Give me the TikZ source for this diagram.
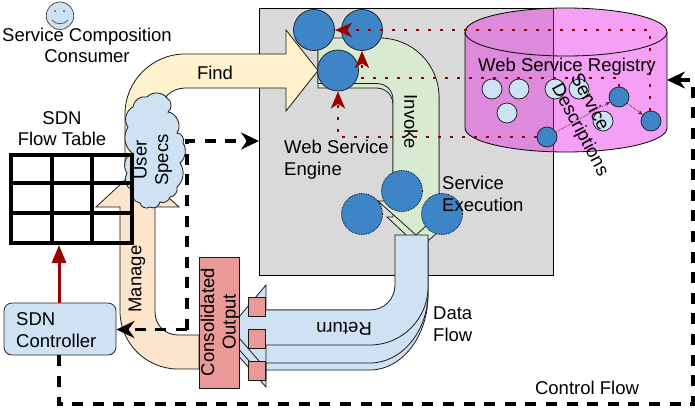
\documentclass[tikz,border=0pt]{standalone}
\usepackage{fontspec}
\setmainfont{Liberation Sans}
\usetikzlibrary{arrows.meta}
\definecolor{panelgray}{HTML}{D9D9D9}
\definecolor{findyellow}{HTML}{FFF2CC}
\definecolor{managepeach}{HTML}{FCE5CD}
\definecolor{invokegreen}{HTML}{D9EAD3}
\definecolor{paleblue}{HTML}{CFE2F3}
\definecolor{salmon}{HTML}{EA9999}
\definecolor{svcblue}{HTML}{3D85C6}
\definecolor{darkred}{HTML}{990000}
\definecolor{regmagenta}{RGB}{228,29,228}
\tikzset{
  txt/.style={font=\fontsize{18.5}{21.5}\selectfont,inner sep=0pt,align=center},
  ltxt/.style={txt,align=left},
  flow/.style={draw=black!90,line width=0.8pt,line join=miter},
  svc/.style={circle,draw=black!85,line width=0.8pt,fill=svcblue,minimum size=41pt,inner sep=0pt},
  exec/.style={circle,draw=black,densely dotted,line width=0.8pt,fill=svcblue,minimum size=41pt,inner sep=0pt},
  desc/.style={circle,draw=black!85,line width=0.8pt,fill=paleblue,minimum size=20pt,inner sep=0pt},
  descdark/.style={circle,draw=black!85,line width=0.8pt,fill=svcblue,minimum size=20pt,inner sep=0pt},
  ctrl/.style={draw=black,line width=3.2pt,dash pattern=on 11pt off 9.6pt,-{Stealth[length=18pt,width=17pt,inset=6pt]}},
  query/.style={draw=darkred,line width=2.8pt,dash pattern=on 2.8pt off 9.2pt,-{Stealth[length=17pt,width=14pt,inset=4.5pt]}},
  link/.style={draw=black!80,line width=0.7pt,densely dotted,-{Stealth[length=5pt,width=4pt]}},
  grid/.style={draw=black,line width=3.6pt},
  outputport/.style={draw=black!90,line width=0.8pt,fill=salmon,minimum width=17pt,minimum height=19pt,inner sep=0pt}
}
\begin{document}
\begin{tikzpicture}[x=1pt,y=-1pt]
\useasboundingbox (0,0) rectangle (695,408);

% Engine panel and registry store
\draw[line width=0.8pt,fill=panelgray] (259,8) rectangle (553,275);
\fill[regmagenta,fill opacity=0.42] (465,32) -- (465,128)
  arc[start angle=180,end angle=360,x radius=101pt,y radius=24pt] -- (667,32)
  arc[start angle=0,end angle=180,x radius=101pt,y radius=24pt] -- cycle;
\draw[line width=0.8pt] (465,32) -- (465,128)
  arc[start angle=180,end angle=360,x radius=101pt,y radius=24pt] -- (667,32);
\draw[line width=0.8pt] (566,32) ellipse[x radius=101pt,y radius=24pt];

% Find and Manage block arrows
\draw[flow,fill=findyellow] (125,167) -- (125,114) .. controls (125,81) and (152,54) .. (185,54)
  -- (286,54) -- (286,30) -- (318,70.5) -- (286,111) -- (286,88) -- (185,88)
  .. controls (171,88) and (160,99) .. (160,113) -- (160,167) -- cycle;
\draw[flow,fill=managepeach] (199,335) -- (178,335) .. controls (165,335) and (155,325) .. (155,312)
  -- (155,207) -- (179,207) -- (137,169) -- (96,207) -- (120,207) -- (120,311)
  .. controls (120,343) and (146,369) .. (178,369) -- (199,369) -- cycle;

% User specification cloud
\draw[flow,fill=paleblue] (133,107) to[bend left=50] (147,97) to[bend left=50] (167,98)
  to[bend left=60] (168,112) to[bend left=60] (177,133) to[bend left=60] (183,143)
  to[bend left=40] (180,163) to[bend left=40] (177,187) to[bend left=50] (170,197)
  to[bend left=50] (160,202) to[bend left=60] (150,207) to[bend left=60] (140,203)
  to[bend left=50] (132,190) to[bend left=50] (127,173) to[bend left=50] (132,153)
  to[bend left=40] (128,127) to[bend left=50] (133,107) -- cycle;

% Flow table
\foreach \gx in {11,52,92,132} \draw[grid] (\gx,153.2) -- (\gx,244.8);
\foreach \gy in {155,183,213,243} \draw[grid] (9.2,\gy) -- (133.8,\gy);

% Invoke block arrows
\draw[flow,fill=invokegreen] (318,43) -- (380,43) .. controls (412,43) and (439,68) .. (439,100)
  -- (439,217) -- (455,217) -- (420,248) -- (387,217) -- (393,217) -- (393,105)
  .. controls (393,95) and (386,88) .. (376,88) -- (318,88) -- cycle;
\draw[flow,fill=invokegreen] (318,38) -- (380,38) .. controls (412,38) and (439,64) .. (439,97)
  -- (439,201) -- (454,201) -- (416,235) -- (378,201) -- (393,201) -- (393,100)
  .. controls (393,90) and (386,83.5) .. (376,83.5) -- (318,83.5) -- cycle;

% Return block arrows
\draw[flow,fill=paleblue] (428,240) -- (428,295) .. controls (428,336) and (402,370) .. (370,370)
  -- (266,370) -- (266,387) -- (235,352) -- (266,317) -- (395,317) -- cycle;
\draw[flow,fill=paleblue] (428,240) -- (428,293) .. controls (428,331) and (402,363) .. (370,363)
  -- (266,363) -- (266,380) -- (235,345) -- (266,310) -- (395,310) -- cycle;
\draw[flow,fill=paleblue] (395,235) -- (395,285) .. controls (395,299) and (384,310) .. (370,310)
  -- (266,310) -- (266,285) -- (230,327.5) -- (266,369) -- (266,345) -- (370,345)
  .. controls (402,345) and (428,319) .. (428,287) -- (428,235) -- cycle;

% Composite services
\node[svc] (svcA) at (314,30) {};
\node[svc] (svcB) at (362,30) {};
\node[svc] (svcC) at (338,70.5) {};
\node[exec] (runA) at (402,191) {};
\node[exec] (runB) at (362,214) {};
\node[exec] (runC) at (442,214) {};

% Service descriptions held in the registry
\node[desc] (d1) at (492,89) {};
\node[desc] (d2) at (519,89) {};
\node[desc] (d3) at (507,113) {};
\node[desc] (d4) at (555,89) {};
\node[desc] (d5) at (579,89) {};
\node[desc] (d6) at (603,121) {};
\node[descdark] (r1) at (619,97) {};
\node[descdark] (r2) at (651,121) {};
\node[descdark] (r3) at (547,137) {};
\draw[link] (r3) -- (r1);
\draw[link] (r1) -- (r2);

% Consolidated output and its ports
\node[draw=black!90,line width=0.8pt,fill=salmon,minimum width=40pt,minimum height=131pt,inner sep=0pt] (output) at (219,322.5) {};
\node[outputport] (p1) at (256.5,306.5) {};
\node[outputport] (p2) at (256.5,338.5) {};
\node[outputport] (p3) at (256.5,370.5) {};

% SDN controller
\node[draw=black!85,line width=0.8pt,fill=paleblue,rounded corners=8pt,minimum width=112pt,minimum height=52pt,inner sep=0pt] (controller) at (60,329) {};
\coordinate (tableS) at (59,245);
\draw[darkred,line width=3pt,-{Triangle[length=18pt,width=14pt]}] (controller.north -| tableS) -- (tableS);

% Control flow lines
\coordinate (regE) at (667,80);
\coordinate (panelW) at (259,141);
\coordinate (c1) at (59,404);
\coordinate (c2) at (693,404);
\coordinate (c3) at (693,80);
\coordinate (c4) at (187,141);
\coordinate (c5) at (187,329.5);
\draw[ctrl] (controller.south -| c1) -- (c1) -- (c2) -- (c3) -- (regE);
\draw[ctrl] (c5) -- (c4) -- (panelW);
\draw[ctrl] (c5) -- (controller.east |- c5);

% Registry lookups
\coordinate (q1a) at (650,30);
\coordinate (q2a) at (619,78);
\coordinate (q2b) at (362,78);
\coordinate (q3a) at (338,137);
\draw[query] (r2.north -| q1a) -- (q1a) -- (svcA.east);
\draw[query] (r1.north) -- (q2a) -- (q2b) -- (svcB.south);
\draw[query] (r3.west) -- (q3a) -- (svcC.south);

% Smiley for the consumer
\node[circle,draw=black!70,line width=0.8pt,fill=paleblue,minimum size=27.5pt,inner sep=0pt] (face) at (60,15.7) {};
\fill[black!70] (55,11) circle[radius=1pt] (64,11) circle[radius=1pt];
\draw[black!70,line width=0.7pt] (52,20) .. controls (55,25) and (65,25) .. (68,20);

% Labels
\node[txt] (tConsumer) at (87,45.5) {Service Composition\\Consumer};
\node[txt] (tTable) at (62,128.5) {SDN\\Flow Table};
\node[txt] (tFind) at (215,73) {Find};
\node[txt,rotate=-90] (tInvoke) at (411,122) {Invoke};
\node[ltxt,anchor=west] (tEngine) at (284,159.5) {Web Service\\Engine};
\node[ltxt,anchor=west] (tExec) at (442,194) {Service\\Execution};
\node[ltxt,anchor=west] (tData) at (433,324) {Data\\Flow};
\node[txt,rotate=180] (tReturn) at (344,329) {Return};
\node[txt,rotate=90] (tManage) at (137,279) {Manage};
\node[txt,rotate=90] (tSpecs) at (153,160) {User\\Specs};
\node[ltxt,anchor=west] (tCtrl) at (16,330) {SDN\\Controller};
\node[txt,rotate=90] (tOutput) at (220,322) {Consolidated\\Output};
\node[txt] (tRegistry) at (567,67) {Web Service Registry};
\node[ltxt,rotate=-62] (tDesc) at (589,125) {Service\\Descriptions};
\node[txt] (tControl) at (587,388) {Control Flow};
\end{tikzpicture}
\end{document}
